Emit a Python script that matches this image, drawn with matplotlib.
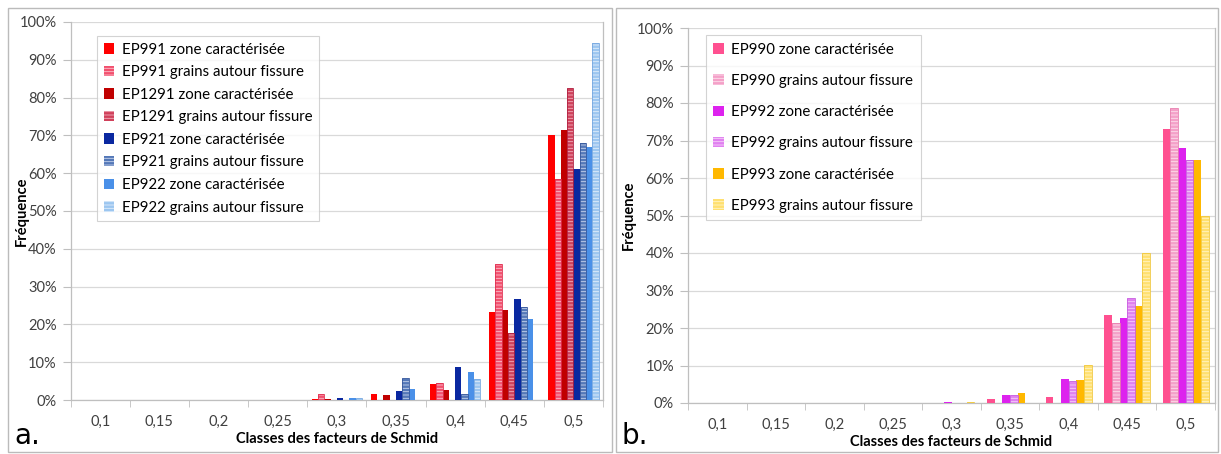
import numpy as np
import matplotlib
matplotlib.use("Agg")
import matplotlib.pyplot as plt
from matplotlib.patches import Rectangle
from matplotlib.ticker import PercentFormatter, FixedLocator

plt.rcParams["font.family"] = ["Lato", "DejaVu Sans"]
plt.rcParams["hatch.linewidth"] = 0.6

# =========================
# DATA (frequencies in %)
# =========================
categories = ["0,1", "0,15", "0,2", "0,25", "0,3", "0,35", "0,4", "0,45", "0,5"]

# panel a.
ep991_zone = [0, 0, 0, 0, 0.3, 1.6, 4.2, 23.4, 70.0]
ep991_grains = [0, 0, 0, 0, 1.6, 0, 4.6, 36.0, 58.5]
ep1291_zone = [0, 0, 0, 0, 0.3, 1.3, 2.6, 23.7, 71.5]
ep1291_grains = [0, 0, 0, 0, 0, 0, 0, 17.8, 82.5]
ep921_zone = [0, 0, 0, 0, 0.5, 2.5, 8.6, 26.7, 61.0]
ep921_grains = [0, 0, 0, 0, 0, 5.9, 1.5, 24.7, 68.0]
ep922_zone = [0, 0, 0, 0, 0.5, 2.9, 7.4, 21.5, 67.0]
ep922_grains = [0, 0, 0, 0, 0.5, 0, 5.6, 0, 94.5]

# panel b.
ep990_zone = [0, 0, 0, 0, 0.1, 1.0, 1.6, 23.5, 73.2]
ep990_grains = [0, 0, 0, 0, 0.1, 0, 0, 21.4, 78.7]
ep992_zone = [0, 0, 0, 0, 0.4, 2.1, 6.4, 22.8, 68.0]
ep992_grains = [0, 0, 0, 0, 0.1, 2.1, 5.8, 27.9, 64.8]
ep993_zone = [0, 0, 0, 0, 0, 2.7, 6.2, 25.8, 64.8]
ep993_grains = [0, 0, 0, 0, 0.3, 0, 10.1, 40.0, 50.0]

# (label, values, face colour, hatch line colour or None, outline colour)
series_a = [
    ("EP991 zone caractérisée", ep991_zone, "#FF0000", None, None),
    ("EP991 grains autour fissure", ep991_grains, "#F2506E", "#FBC0CC", "#E03050"),
    ("EP1291 zone caractérisée", ep1291_zone, "#C00000", None, None),
    ("EP1291 grains autour fissure", ep1291_grains, "#D0405A", "#F0B0BC", "#B02040"),
    ("EP921 zone caractérisée", ep921_zone, "#0A28A0", None, None),
    ("EP921 grains autour fissure", ep921_grains, "#5478B8", "#C8D4EC", "#38589C"),
    ("EP922 zone caractérisée", ep922_zone, "#4A90E8", None, None),
    ("EP922 grains autour fissure", ep922_grains, "#9CC6F0", "#E2EEFB", "#78A8E0"),
]
series_b = [
    ("EP990 zone caractérisée", ep990_zone, "#FF5090", None, None),
    ("EP990 grains autour fissure", ep990_grains, "#F4A0C8", "#FCE0EC", "#E880B0"),
    ("EP992 zone caractérisée", ep992_zone, "#DD22EE", None, None),
    ("EP992 grains autour fissure", ep992_grains, "#E080F0", "#F6D0FA", "#C860E0"),
    ("EP993 zone caractérisée", ep993_zone, "#FFB800", None, None),
    ("EP993 grains autour fissure", ep993_grains, "#FFE070", "#FFF4C8", "#F0C840"),
]

GRID = "#D9D9D9"
AXIS = "#BFBFBF"


def draw_panel(ax, series, group_width, legend_anchor, label_spacing, border_pad, ylabel_x):
    x = np.arange(len(categories))
    n = len(series)
    w = group_width / n
    for i, (label, vals, face, hatch_col, edge) in enumerate(series):
        pos = x - group_width / 2 + w * (i + 0.5)
        vals = np.array(vals) / 100.0
        if hatch_col is None:
            ax.bar(pos, vals, width=w, color=face, linewidth=0, label=label, zorder=3)
        else:
            ax.bar(pos, vals, width=w, facecolor=face, edgecolor=hatch_col,
                   hatch="-----", linewidth=0, label=label, zorder=3)
            ax.bar(pos, vals, width=w, fill=False, edgecolor=edge, linewidth=0.6, zorder=4)

    ax.set_xlim(-0.5, len(categories) - 0.5)
    ax.set_ylim(0, 1.0)
    ax.yaxis.set_major_locator(FixedLocator(np.arange(0, 1.01, 0.1)))
    ax.yaxis.set_major_formatter(PercentFormatter(1.0, decimals=0))
    ax.set_xticks(x)
    ax.set_xticklabels(categories)
    ax.xaxis.set_minor_locator(FixedLocator(np.arange(-0.5, len(categories), 1.0)))
    ax.tick_params(axis="x", which="major", length=0, labelsize=10.5, colors="#404040", pad=11)
    ax.tick_params(axis="x", which="minor", length=5, color=AXIS, direction="out")
    ax.tick_params(axis="y", length=6, color=AXIS, labelsize=10.5, colors="#404040", pad=4)
    ax.grid(axis="y", color=GRID, linewidth=0.9, zorder=0)
    for s in ax.spines.values():
        s.set_color(AXIS)
        s.set_linewidth(0.9)
    ax.spines["top"].set_visible(False)

    ax.set_ylabel("Fréquence", fontsize=10.5, fontweight="bold")
    ax.yaxis.set_label_coords(ylabel_x, 0.5)
    ax.set_xlabel("Classes des facteurs de Schmid", fontsize=10.5, fontweight="bold", labelpad=2)

    leg = ax.legend(loc="upper left", bbox_to_anchor=legend_anchor, borderaxespad=0,
                    fontsize=10.8, frameon=True, fancybox=False, handlelength=0.7,
                    handleheight=0.7, handletextpad=0.5, labelspacing=label_spacing,
                    borderpad=border_pad)
    leg.get_frame().set_edgecolor("#C8C8C8")
    leg.get_frame().set_linewidth(0.8)
    leg.set_zorder(10)


fig = plt.figure(figsize=(12.21, 4.54), dpi=100)
W, H = 1221.0, 454.0

ax_a = fig.add_axes([70.7 / W, (H - 400) / H, (603 - 70.7) / W, 378 / H])
ax_b = fig.add_axes([688 / W, (H - 403) / H, (1215 - 688) / W, 375 / H])

draw_panel(ax_a, series_a, 0.85, (0.049, 0.963), 0.57, 0.45, -0.078)
draw_panel(ax_b, series_b, 0.785, (0.034, 0.981), 1.15, 0.5, -0.098)

# panel frames
for x0, x1 in [(8, 612), (616, 1218)]:
    fig.patches.append(Rectangle((x0 / W, 2 / H), (x1 - x0) / W, (H - 10) / H,
                                 transform=fig.transFigure, fill=False,
                                 edgecolor="#BBBBBB", linewidth=1.0))

fig.text(14 / W, 4 / H, "a.", fontsize=20, family=["DejaVu Sans"], va="bottom")
fig.text(622 / W, 4 / H, "b.", fontsize=20, family=["DejaVu Sans"], va="bottom")

fig.savefig("out.png", dpi=100)
